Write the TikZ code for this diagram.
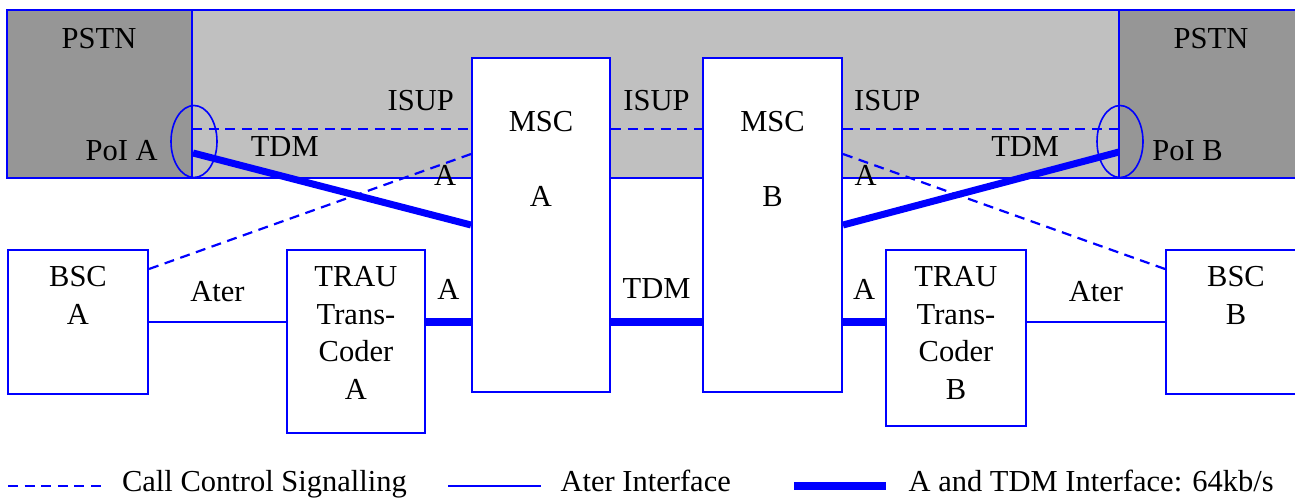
\documentclass[tikz,border=0pt]{standalone}
\usepackage{fontspec}
\setmainfont{Liberation Serif}
\usetikzlibrary{positioning,shapes.geometric}
\definecolor{netblue}{RGB}{0,0,255}
\definecolor{pstngray}{RGB}{150,150,150}
\definecolor{coregray}{RGB}{192,192,192}

\begin{document}
\begin{tikzpicture}[x=0.5pt,y=-0.5pt,
    every node/.style={font=\fontsize{15.25pt}{18.75pt}\selectfont},
    box/.style={draw=netblue,fill=white,line width=1pt,inner sep=0pt},
    boxtext/.style={align=center,inner sep=0pt},
    poi/.style={draw=netblue,ellipse,line width=0.8pt,inner sep=0pt,minimum width=23pt,minimum height=36pt},
    sig/.style={draw=netblue,line width=1.1pt,dash pattern=on 5pt off 3.3pt},
    isup/.style={sig,line width=1.4pt},
    ater/.style={draw=netblue,line width=1pt},
    aif/.style={draw=netblue,line width=4pt},
    lbl/.style={inner sep=0pt},
    legtext/.style={right=6pt,text height=0.75em,text depth=0.25em}]
\useasboundingbox (0,0) rectangle (1295,499);
% PSTN and core network band
\draw [netblue,line width=1pt,fill=pstngray] (7,10) rectangle (192,178);
\draw [netblue,line width=1pt,fill=coregray] (192,10) rectangle (1119,178);
\draw [netblue,line width=1pt,fill=pstngray] (1119,10) rectangle (1310,178);
\node [lbl,anchor=base] (pstna) at (99,48) {PSTN};
\node [lbl,anchor=base] (pstnb) at (1211,48) {PSTN};
\node [poi] (poia) at (194,141.5) {};
\node [poi] (poib) at (1120,141.5) {};
\node [lbl,anchor=base east] (poiatext) at (158,160) {PoI A};
\node [lbl,anchor=base west] (poibtext) at (1152,160) {PoI B};
\coordinate (poiaisup) at (192,129);
\coordinate (poibisup) at (1119,129);
\coordinate (poiatdm) at (193,153);
\coordinate (poibtdm) at (1119,152);

% network elements
\node [box,minimum width=69pt,minimum height=167pt] (msca) at (541,225) {};
\node [box,minimum width=69.5pt,minimum height=167pt] (mscb) at (772.5,225) {};
\node [box,minimum width=70pt,minimum height=72pt] (bsca) at (78,322) {};
\node [box,minimum width=70pt,minimum height=72pt] (bscb) at (1236,322) {};
\node [box,minimum width=69pt,minimum height=91.5pt] (traua) at (356,341.5) {};
\node [box,minimum width=70pt,minimum height=88pt] (traub) at (956,338) {};
\node [boxtext,below=27pt of msca.north] {MSC\\[18.75pt]A};
\node [boxtext,below=27pt of mscb.north] {MSC\\[18.75pt]B};
\node [boxtext,below=8.5pt of bsca.north] {BSC\\A};
\node [boxtext,below=8.5pt of bscb.north] {BSC\\B};
\node [boxtext,below=8.5pt of traua.north] {TRAU\\Trans-\\Coder\\A};
\node [boxtext,below=8.5pt of traub.north] {TRAU\\Trans-\\Coder\\B};

% ISUP signalling
\draw [isup] (poiaisup) -- (poiaisup -| msca.west)
    node [lbl,pos=0.82,above=8.5pt] {ISUP};
\draw [isup] (msca.east |- poiaisup) -- (mscb.west |- poiaisup)
    node [lbl,midway,above=8.5pt] {ISUP};
\draw [isup] (mscb.east |- poibisup) -- (poibisup)
    node [lbl,pos=0.16,above=8.5pt] {ISUP};
% TDM to the PSTN
\draw [aif,line width=3.5pt] (poiatdm) -- (msca.west)
    node [lbl,pos=0.33,above=8.4pt] {TDM};
\draw [aif,line width=3.5pt] (mscb.east) -- (poibtdm)
    node [lbl,pos=0.66,above=8.3pt] {TDM};
% call control from the BSCs
\draw [sig] ([yshift=-10pt]bsca.north east) -- ([yshift=35.5pt]msca.west)
    node [lbl,pos=0.92,below=0.5pt] {A};
\draw [sig] ([yshift=35.5pt]mscb.east) -- ([yshift=-10pt]bscb.north west)
    node [lbl,pos=0.07,below=1pt] {A};
% Ater, A and TDM
\draw [ater] (bsca.east) -- (traua.west |- bsca.east)
    node [lbl,midway,above=9.5pt] {Ater};
\draw [aif] (traua.east |- bsca.east) -- (msca.west |- bsca.east)
    node [lbl,midway,above=9.5pt] {A};
\draw [aif] (msca.east |- bsca.east) -- (mscb.west |- bsca.east)
    node [lbl,midway,above=9.5pt] {TDM};
\draw [aif] (mscb.east |- bscb.west) -- (traub.west |- bscb.west)
    node [lbl,midway,above=9.5pt] {A};
\draw [ater] (traub.east |- bscb.west) -- (bscb.west)
    node [lbl,midway,above=9.5pt] {Ater};

% legend
\coordinate (legsig) at (8,486);
\coordinate (legater) at (448,486);
\coordinate (legaif) at (794,486);
\draw [sig,line width=1.4pt] (legsig) -- ++(94,0)
    node [legtext] {Call Control Signalling};
\draw [ater] (legater) -- ++(93,0)
    node [legtext] {Ater Interface};
\draw [aif] (legaif) -- ++(92,0)
    node [legtext] {A and TDM Interface: 64kb/s};
\end{tikzpicture}
\end{document}
